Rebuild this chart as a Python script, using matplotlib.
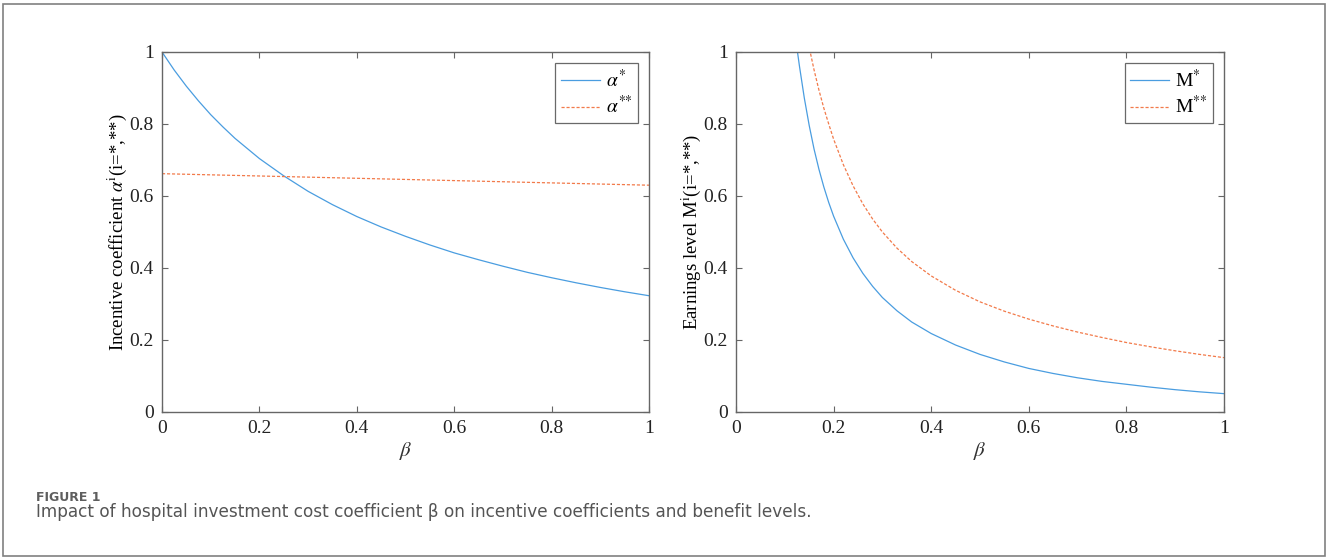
import matplotlib
matplotlib.use("Agg")
import matplotlib.pyplot as plt
from matplotlib.patches import Rectangle

# values
beta_a = [0.000, 0.025, 0.050, 0.075, 0.100, 0.125, 0.150, 0.200, 0.250, 0.300, 0.350,
          0.400, 0.450, 0.500, 0.550, 0.600, 0.650, 0.700, 0.750, 0.800, 0.850,
          0.900, 0.950, 1.000]
alpha_1 = [1.000, 0.950, 0.905, 0.864, 0.826, 0.792, 0.760, 0.704, 0.656, 0.613, 0.576,
           0.543, 0.514, 0.488, 0.464, 0.442, 0.423, 0.405, 0.388, 0.373, 0.359,
           0.346, 0.334, 0.323]
beta_a2 = [0.00, 0.25, 0.50, 0.75, 1.00]
alpha_2 = [0.662, 0.654, 0.646, 0.638, 0.630]

beta_m1 = [0.120, 0.126, 0.130, 0.140, 0.150, 0.160, 0.170, 0.180, 0.190, 0.200, 0.220,
           0.240, 0.260, 0.280, 0.300, 0.330, 0.360, 0.400, 0.450, 0.500, 0.550,
           0.600, 0.650, 0.700, 0.750, 0.800, 0.850, 0.900, 0.950, 1.000]
m_1 = [1.066, 1.000, 0.961, 0.872, 0.796, 0.730, 0.674, 0.625, 0.582, 0.544, 0.480,
       0.428, 0.385, 0.349, 0.318, 0.281, 0.250, 0.218, 0.186, 0.160, 0.139,
       0.121, 0.107, 0.095, 0.085, 0.077, 0.069, 0.062, 0.056, 0.051]
beta_m2 = [0.145, 0.150, 0.160, 0.170, 0.180, 0.190, 0.200, 0.220, 0.240, 0.260, 0.280,
           0.300, 0.330, 0.360, 0.400, 0.450, 0.500, 0.550, 0.600, 0.650, 0.700,
           0.750, 0.800, 0.850, 0.900, 0.950, 1.000]
m_2 = [1.050, 1.013, 0.950, 0.894, 0.844, 0.800, 0.758, 0.687, 0.628, 0.578, 0.536,
       0.500, 0.455, 0.418, 0.378, 0.338, 0.306, 0.280, 0.258, 0.239, 0.222,
       0.207, 0.193, 0.181, 0.170, 0.160, 0.151]

ticks = [0, 0.2, 0.4, 0.6, 0.8, 1]
tick_labels = ["0", "0.2", "0.4", "0.6", "0.8", "1"]

BLUE = "#4a9de0"
ORANGE = "#f27a4a"
FRAME = "#666666"

plt.rcParams["font.family"] = ["Liberation Serif", "DejaVu Serif"]
plt.rcParams["mathtext.fontset"] = "stix"

W, H = 1327, 557
fig = plt.figure(figsize=(W / 100, H / 100), dpi=100)

# outer frame of the figure panel
fig.patches.append(Rectangle((3 / W, 1 - 556 / H), 1322 / W, 552 / H, transform=fig.transFigure,
                             fill=False, edgecolor="#808080", linewidth=1.2))

ax1 = fig.add_axes([162 / W, 1 - 412 / H, 487 / W, 360 / H])
ax2 = fig.add_axes([736 / W, 1 - 412 / H, 488 / W, 360 / H])

ax1.plot(beta_a, alpha_1, color=BLUE, lw=0.9, label=r"$\alpha^{*}$")
ax1.plot(beta_a2, alpha_2, color=ORANGE, lw=0.9, dashes=(2.5, 1.5), label=r"$\alpha^{{*}{*}}$")
ax1.set_ylabel(r"Incentive coefficient $\alpha^{\mathrm{i}}$(i=*,**)", fontsize=13.5, labelpad=0)

ax2.plot(beta_m1, m_1, color=BLUE, lw=0.9, label=r"M$^{*}$")
ax2.plot(beta_m2, m_2, color=ORANGE, lw=0.9, dashes=(2.5, 1.5), label=r"M$^{{*}{*}}$")
ax2.set_ylabel(r"Earnings level M$^{\mathrm{i}}$(i=*,**)", fontsize=13.5, labelpad=0)

for ax in (ax1, ax2):
    ax.set_xlim(0, 1)
    ax.set_ylim(0, 1)
    ax.set_xticks(ticks)
    ax.set_xticklabels(tick_labels)
    ax.set_yticks(ticks)
    ax.set_yticklabels(tick_labels)
    ax.set_xlabel(r"$\beta$", fontsize=15, labelpad=2, color="#333333")
    ax.tick_params(direction="in", length=4, width=0.8, color=FRAME, top=True, right=True,
                   labelsize=14, pad=6, labelcolor="#222222")
    for s in ax.spines.values():
        s.set_color(FRAME)
        s.set_linewidth(1.0)
    leg = ax.legend(loc="upper right", fontsize=14, frameon=True, fancybox=False,
                    handlelength=2.0, handletextpad=0.3, borderpad=0.3,
                    labelspacing=0.25, borderaxespad=0.55)
    leg.get_frame().set_edgecolor("#444444")
    leg.get_frame().set_linewidth(0.9)

fig.text(36 / W, 1 - 501 / H, "FIGURE 1", family="DejaVu Sans", fontsize=9,
         fontweight="bold", color="#5e5e5e")
fig.text(36 / W, 1 - 517 / H,
         "Impact of hospital investment cost coefficient \u03b2 on incentive coefficients and benefit levels.",
         family="DejaVu Sans", fontsize=12.2, color="#555555")

fig.savefig("out.png", dpi=100)
